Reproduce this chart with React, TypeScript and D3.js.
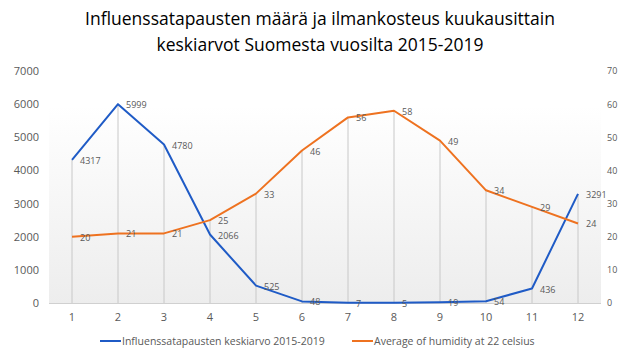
import { useEffect, useRef } from 'react';
import * as d3 from 'd3';

const months = [1, 2, 3, 4, 5, 6, 7, 8, 9, 10, 11, 12];
const fluCases = [4317, 5999, 4780, 2066, 525, 48, 7, 5, 19, 54, 436, 3291];
const humidity = [20, 21, 21, 25, 33, 46, 56, 58, 49, 34, 29, 24];
const leftTicks = [0, 1000, 2000, 3000, 4000, 5000, 6000, 7000];
const rightTicks = [0, 10, 20, 30, 40, 50, 60, 70];
const titleLines = [
  'Influenssatapausten määrä ja ilmankosteus kuukausittain',
  'keskiarvot Suomesta vuosilta 2015-2019',
];
const seriesNames = ['Influenssatapausten keskiarvo 2015-2019', 'Average of humidity at 22 celsius'];

const W = 640;
const H = 351;
const FONT = 'Open Sans, sans-serif';
const BLUE = '#1f5bc6';
const ORANGE = '#ee7220';
const TXT = '#595959';

const App = () => {
  const ref = useRef<SVGSVGElement>(null);

  useEffect(() => {
    const svg = d3.select(ref.current);
    svg.selectAll('*').remove();

    const x = d3.scaleBand<number>().domain(months).range([49, 601]);
    const yL = d3.scaleLinear().domain([0, 7000]).range([303, 71]);
    const yR = d3.scaleLinear().domain([0, 70]).range([303, 71]);
    const cx = (m: number) => (x(m) ?? 0) + x.bandwidth() / 2;

    // plot background gradient
    const grad = svg.append('defs').append('linearGradient')
      .attr('id', 'bg').attr('x1', 0).attr('y1', 0).attr('x2', 0).attr('y2', 1);
    grad.append('stop').attr('offset', '15%').attr('stop-color', '#ffffff');
    grad.append('stop').attr('offset', '100%').attr('stop-color', '#ededed');
    svg.append('rect').attr('x', 49).attr('y', 71).attr('width', 552).attr('height', 232)
      .attr('fill', 'url(#bg)');

    // title
    svg.append('g').selectAll('text').data(titleLines).enter().append('text')
      .attr('x', 320).attr('y', (d, i) => 25 + i * 26)
      .attr('text-anchor', 'middle').attr('font-family', FONT).attr('font-size', 17.5)
      .attr('fill', '#000').text(d => d);

    // baseline
    svg.append('line').attr('x1', 49).attr('x2', 601).attr('y1', 303.5).attr('y2', 303.5)
      .attr('stroke', '#d0d0d0');

    // drop lines
    svg.append('g').selectAll('line').data(months).enter().append('line')
      .attr('x1', m => cx(m)).attr('x2', m => cx(m))
      .attr('y1', (m, i) => Math.min(yL(fluCases[i]), yR(humidity[i])))
      .attr('y2', 303)
      .attr('stroke', '#c8c8c8').attr('stroke-width', 1);

    // left axis
    const gl = svg.append('g').attr('transform', 'translate(39,0)')
      .call(d3.axisLeft(yL).tickValues(leftTicks).tickSize(0).tickPadding(0).tickFormat(d3.format('d')));
    gl.select('.domain').remove();
    gl.selectAll('text').attr('font-family', FONT).attr('font-size', 11).attr('fill', TXT);

    // right axis
    const gr = svg.append('g').attr('transform', 'translate(607,0)')
      .call(d3.axisRight(yR).tickValues(rightTicks).tickSize(0).tickPadding(0));
    gr.select('.domain').remove();
    gr.selectAll('text').attr('font-family', FONT).attr('font-size', 9).attr('fill', TXT);

    // x axis
    const gx = svg.append('g').attr('transform', 'translate(0,313)')
      .call(d3.axisBottom(x).tickSize(0).tickPadding(0));
    gx.select('.domain').remove();
    gx.selectAll('text').attr('font-family', FONT).attr('font-size', 11).attr('fill', TXT);

    // lines
    const lineL = d3.line<number>().x((d, i) => cx(months[i])).y(d => yL(d));
    const lineR = d3.line<number>().x((d, i) => cx(months[i])).y(d => yR(d));
    svg.append('path').datum(fluCases).attr('d', lineL).attr('fill', 'none')
      .attr('stroke', BLUE).attr('stroke-width', 2).attr('stroke-linejoin', 'round');
    svg.append('path').datum(humidity).attr('d', lineR).attr('fill', 'none')
      .attr('stroke', ORANGE).attr('stroke-width', 2).attr('stroke-linejoin', 'round');

    // data labels
    svg.append('g').selectAll('text').data(fluCases).enter().append('text')
      .attr('x', (d, i) => cx(months[i]) + 8).attr('y', d => yL(d) + 4)
      .attr('font-family', FONT).attr('font-size', 9).attr('fill', TXT).text(d => d);
    svg.append('g').selectAll('text').data(humidity).enter().append('text')
      .attr('x', (d, i) => cx(months[i]) + 8).attr('y', d => yR(d) + 4)
      .attr('font-family', FONT).attr('font-size', 9).attr('fill', TXT).text(d => d);

    // legend
    const legend = [
      { name: seriesNames[0], color: BLUE, x: 100 },
      { name: seriesNames[1], color: ORANGE, x: 352 },
    ];
    const lg = svg.append('g').selectAll('g').data(legend).enter().append('g')
      .attr('transform', d => `translate(${d.x},341)`);
    lg.append('line').attr('x1', 0).attr('x2', 21).attr('y1', 0).attr('y2', 0)
      .attr('stroke', d => d.color).attr('stroke-width', 2);
    lg.append('text').attr('x', 22).attr('y', 4).attr('font-family', FONT)
      .attr('font-size', 10.5).attr('fill', TXT).text(d => d.name);
  }, []);

  return (
    <svg ref={ref} width={W} height={H} style={{ position: 'absolute', left: 0, top: 0, background: '#fff' }} />
  );
};

export default App;
